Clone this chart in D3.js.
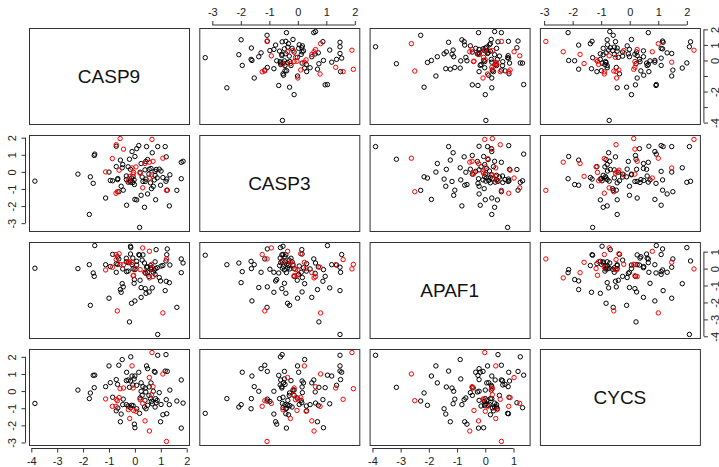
<!DOCTYPE html>
<html>
<head>
<meta charset="utf-8">
<script src="https://cdn.jsdelivr.net/npm/d3@7"></script>
<style>
body { margin: 0; background: #fff; }
text { font-family: "Liberation Sans", Arial, sans-serif; }
</style>
</head>
<body>
<div id="chart"></div>
<script>
var genes = ["CASP9", "CASP3", "APAF1", "CYCS"];

// black samples
var blackCASP9 = [-3.86, 0.88, 0.18, -0.21, -2.20, 1.62, 1.79, 1.86, 1.79, -1.76,
  -1.72, -1.57, -1.61, -1.55, -1.13, -1.00, -0.95, -0.86, -0.72, -0.62,
  -0.49, -0.67, -0.66, -0.72, -0.53, -0.56, -0.32, -0.33, -0.26, -0.16,
  -0.11, 0.00, -0.17, -0.08, -0.03, 0.15, -0.45, -0.47, -0.26, -0.13,
  -0.07, -0.02, 0.00, 0.07, 0.20, 0.28, 0.31, 0.45, 0.49, 0.55,
  0.62, 0.75, 0.78, 0.71, 0.42, 0.37, 0.43, 0.49, 0.60, 0.67,
  0.80, 0.82, 0.86, 1.20, 1.17, 1.25, 0.94, 1.01, 1.08, 1.23,
  0.99, 1.21, 1.33, 1.35, -0.33, -0.17, 0.07, 0.24, 0.39, 0.78,
  0.40, 0.54, 0.64, 0.24];
var blackCASP3 = [-0.54, 1.48, -3.25, 0.74, -0.13, -1.08, 0.56, 0.62, -0.40, -2.49,
  -0.29, 0.96, -0.67, 1.04, -1.53, -0.01, -0.50, -0.52, 1.50, -1.16,
  0.24, -0.45, -0.39, 0.31, -0.84, 0.69, -1.95, -0.24, -0.60, -0.61,
  1.19, -1.61, 0.15, -0.62, -0.47, 1.54, -1.07, 0.43, 0.30, -0.36,
  -0.28, -0.74, 0.90, -1.64, -0.02, -0.30, -0.56, 1.48, -1.29, 0.15,
  0.20, -0.47, 0.03, -0.84, 0.61, -2.07, -0.42, 0.72, -0.64, 1.12,
  -1.63, 0.14, -0.35, -0.55, 1.48, -1.07, 0.16, 0.05, -0.33, -0.42,
  -0.78, 0.88, -1.99, -0.17, -0.45, -0.52, 1.36, -1.37, 0.12, -0.20,
  -0.56, -0.13, -0.98, 0.49];
var blackAPAF1 = [0.02, -3.89, 0.79, -3.15, 0.00, -2.29, 0.57, 0.33, -0.24, 0.23,
  -2.17, -0.46, -0.26, 1.36, 0.23, -1.75, 0.12, 0.84, -0.22, 0.57,
  -0.89, 0.70, 0.25, 0.29, -1.40, -1.24, -0.18, 0.61, 0.35, 1.24,
  0.23, -1.91, 0.86, 0.62, -0.87, 0.83, -1.08, -0.02, -0.15, -2.05,
  -0.02, -0.65, -0.06, 0.43, -0.69, 0.50, 0.81, 0.08, -0.22, -1.38,
  0.05, -0.08, -0.34, -0.22, -0.28, 0.33, -1.46, 0.10, 0.18, -1.14,
  0.00, 1.12, 0.05, 0.45, -1.30, 1.16, -0.53, 0.15, 0.18, 0.82,
  -0.73, -0.75, -0.83, 0.21, 0.40, 1.32, 0.21, -1.12, -0.22, 0.40,
  -1.18, -0.46, -0.04, -1.70];
var blackCYCS = [-0.72, 2.09, -1.30, 0.22, 0.06, -0.58, 0.65, -0.70, -2.16, -0.44,
  -0.11, 0.20, 0.92, 0.93, 0.26, 1.47, 0.49, -0.36, 0.67, 1.51,
  1.84, 0.39, -0.99, -1.15, -1.34, -1.79, 1.10, 0.61, 0.65, 2.00,
  0.88, 0.88, 0.59, 0.36, 0.71, 1.10, -0.47, -0.79, -0.87, -0.83,
  -0.85, -1.93, -2.14, -1.03, -0.40, -0.25, 0.26, 1.47, 1.31, 0.24,
  0.48, 1.15, 1.10, -0.01, -0.05, -0.93, -1.03, -0.83, -0.44, -0.74,
  -0.44, -0.68, -0.54, 2.13, 1.17, 1.15, -0.09, -0.78, -1.38, -1.32,
  -1.79, -0.50, -0.79, 0.06, -0.79, -0.97, 0.34, -0.01, -0.54, -0.93,
  0.18, -0.25, -0.60, 0.48];

// red samples
var redCASP9 = [0.66, -0.11, 1.08, 0.56, -0.57, -0.44, -0.07, 0.70, 0.64, -1.13, -0.72, -0.61,
  -0.68, -0.73, -0.87, -0.25, -0.05, 0.04, -0.20, 0.39, 0.56, 1.22, 0.20, 0.30];
var redCASP3 = [1.90, 0.23, 0.80, -0.36, 1.95, 1.33, -0.13, 0.62, -0.17, 0.00, 1.59, 0.10,
  -1.16, -1.25, 0.78, -0.52, -0.03, 0.29, -0.26, 0.49, 0.57, -1.08, -0.08, -0.93];
var redAPAF1 = [-0.02, 0.37, -2.62, 1.02, 0.25, 0.23, -0.42, -0.47, 0.25, -0.08, 0.53, 0.88,
  -2.50, 0.83, 0.08, 0.41, -0.40, 0.00, 0.37, -0.24, -0.55, 0.57, -0.06, 1.22];
var redCYCS = [2.25, 1.47, 1.00, 0.79, 0.14, 0.18, 0.18, 0.26, -0.21, -0.46, -0.48, -0.38,
  -0.56, -0.89, -0.89, -1.09, -1.13, -1.18, -1.60, -1.74, -2.33, -2.94, -0.50, -0.72];

// tick values per gene
var ticksCASP9 = [-4, -3, -2, -1, 0, 1, 2];
var ticksCASP3 = [-3, -2, -1, 0, 1, 2];
var ticksAPAF1 = [-4, -3, -2, -1, 0, 1];
var ticksCYCS = [-3, -2, -1, 0, 1, 2];
// labels R kept on the crowded right axis of row 1
var labelsRow1Right = [2, 1, 0, -2, -4];

var tickSets = [ticksCASP9, ticksCASP3, ticksAPAF1, ticksCYCS];

var W = 719, H = 467;
var marginL = 29, marginT = 28, pw = 160, ph = 96, stepX = 170.3, stepY = 107;

var rows = [];
blackCASP9.forEach(function(d, i) {
  rows.push({ col: "#000000", v: [blackCASP9[i], blackCASP3[i], blackAPAF1[i], blackCYCS[i]] });
});
redCASP9.forEach(function(d, i) {
  rows.push({ col: "#ff0000", v: [redCASP9[i], redCASP3[i], redAPAF1[i], redCYCS[i]] });
});

// R pads the data range by 4% on each side
var dom = genes.map(function(g, k) {
  var e = d3.extent(rows, function(r) { return r.v[k]; });
  var p = (e[1] - e[0]) * 0.04;
  return [e[0] - p, e[1] + p];
});
var xScales = genes.map(function(g, k) {
  var x0 = marginL + k * stepX;
  return d3.scaleLinear().domain(dom[k]).range([x0, x0 + pw]);
});
var yScales = genes.map(function(g, k) {
  var y0 = marginT + k * stepY;
  return d3.scaleLinear().domain(dom[k]).range([y0 + ph, y0]);
});

var svg = d3.select("#chart").append("svg")
  .attr("width", W).attr("height", H);

for (var i = 0; i < 4; i++) {
  for (var j = 0; j < 4; j++) {
    var px = marginL + j * stepX, py = marginT + i * stepY;
    var g = svg.append("g");
    if (i === j) {
      g.append("text").attr("x", px + pw / 2).attr("y", py + ph / 2)
        .attr("text-anchor", "middle").attr("dominant-baseline", "central")
        .attr("font-size", 19).attr("fill", "#111").text(genes[i]);
    } else {
      drawPoints(g, i, j);
    }
    g.append("rect").attr("x", px + 0.5).attr("y", py + 0.5)
      .attr("width", pw).attr("height", ph)
      .attr("fill", "none").attr("stroke", "#333").attr("stroke-width", 1);
  }
}

function drawPoints(g, i, j) {
  var xs = xScales[j], ys = yScales[i];
  g.selectAll("circle").data(rows).enter().append("circle")
    .attr("cx", function(d) { return xs(d.v[j]); })
    .attr("cy", function(d) { return ys(d.v[i]); })
    .attr("r", 2.2)
    .attr("fill", "none")
    .attr("stroke", function(d) { return d.col; })
    .attr("stroke-width", 1);
}

var fmt = function(d) { return String(d); };

function styleAxis(ax, scale, ticks, vertical) {
  ax.select(".domain")
    .attr("d", vertical
      ? "M0," + scale(ticks[0]) + "V" + scale(ticks[ticks.length - 1])
      : "M" + scale(ticks[0]) + ",0H" + scale(ticks[ticks.length - 1]))
    .attr("stroke", "#333");
  ax.selectAll(".tick line").attr("stroke", "#333");
  ax.selectAll("text").attr("font-size", 11).attr("fill", "#222")
    .attr("font-family", '"Liberation Sans", Arial, sans-serif');
}

// bottom axes: columns 1 and 3
[0, 2].forEach(function(j) {
  var ax = svg.append("g").attr("transform", "translate(0," + (marginT + 3 * stepY + ph + 3.5) + ")")
    .call(d3.axisBottom(xScales[j]).tickValues(tickSets[j]).tickFormat(fmt)
      .tickSize(4).tickSizeOuter(0).tickPadding(5));
  styleAxis(ax, xScales[j], tickSets[j], false);
});
// top axes: columns 2 and 4
[1, 3].forEach(function(j) {
  var ax = svg.append("g").attr("transform", "translate(0," + (marginT - 3) + ")")
    .call(d3.axisTop(xScales[j]).tickValues(tickSets[j]).tickFormat(fmt)
      .tickSize(4).tickSizeOuter(0).tickPadding(5));
  styleAxis(ax, xScales[j], tickSets[j], false);
});
// left axes: rows 2 and 4
[1, 3].forEach(function(i) {
  var ax = svg.append("g").attr("transform", "translate(" + (marginL - 3.5) + ",0)")
    .call(d3.axisLeft(yScales[i]).tickValues(tickSets[i]).tickFormat(fmt)
      .tickSize(4).tickSizeOuter(0));
  styleAxis(ax, yScales[i], tickSets[i], true);
  ax.selectAll(".tick text")
    .attr("x", 0).attr("y", 0).attr("dy", "0.35em")
    .attr("text-anchor", "middle")
    .attr("transform", "translate(-13.5,0) rotate(-90)");
});
// right axes: rows 1 and 3
[0, 2].forEach(function(i) {
  var ax = svg.append("g").attr("transform", "translate(" + (marginL + 3 * stepX + pw + 4) + ",0)")
    .call(d3.axisRight(yScales[i]).tickValues(tickSets[i]).tickFormat(fmt)
      .tickSize(4).tickSizeOuter(0));
  styleAxis(ax, yScales[i], tickSets[i], true);
  ax.selectAll(".tick text")
    .attr("x", 0).attr("y", 0).attr("dy", "0.35em")
    .attr("text-anchor", "middle")
    .attr("transform", "translate(10.8,0) rotate(-90)");
  if (i === 0) {
    ax.selectAll(".tick text").filter(function(d) { return labelsRow1Right.indexOf(d) < 0; }).remove();
  }
});
</script>
</body>
</html>
